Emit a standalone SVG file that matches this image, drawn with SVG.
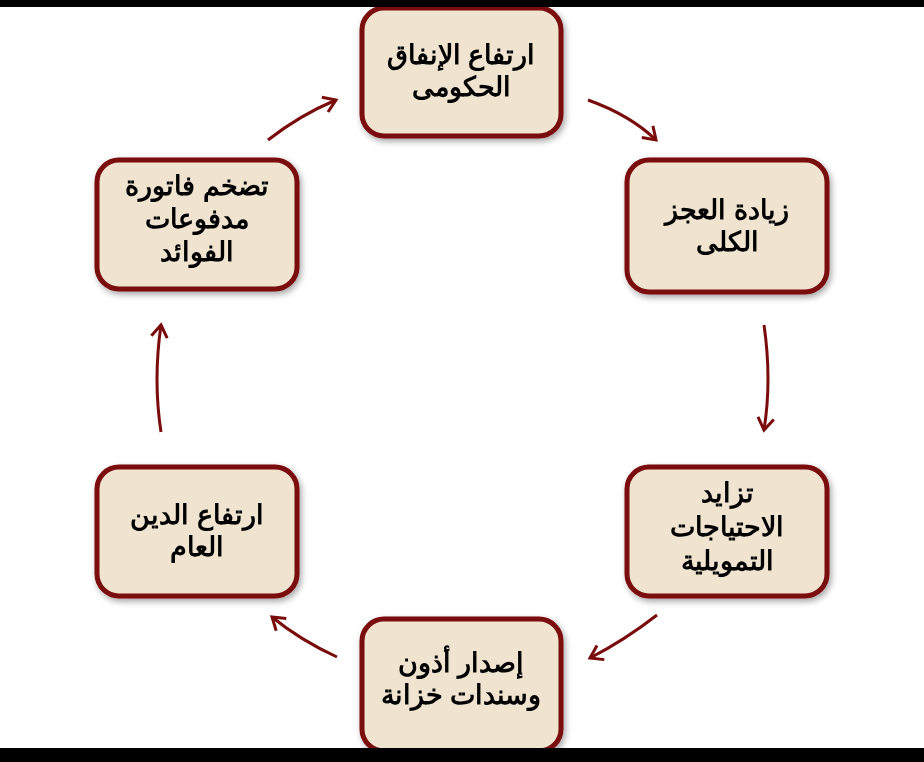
<svg xmlns="http://www.w3.org/2000/svg" width="924" height="762" viewBox="0 0 924 762">
<style>
.n rect{fill:#f0e4d0;stroke:#7a0b0b;stroke-width:5}
.n text{font-family:"Liberation Sans",Arial,sans-serif;font-weight:bold;font-size:27px;fill:#000;text-anchor:middle;direction:rtl}
.c path{fill:none;stroke:#7a0b0b;stroke-width:3}
</style>
<defs>
<marker id="a" markerWidth="20" markerHeight="20" refX="15" refY="10" orient="auto" markerUnits="userSpaceOnUse" viewBox="0 0 20 20">
<path d="M3,2 L15,10 L3,18" fill="none" stroke="#7a0b0b" stroke-width="3"/>
</marker>
<filter id="s" x="-10%" y="-10%" width="130%" height="130%"><feDropShadow dx="2" dy="3" stdDeviation="3" flood-opacity="0.35"/></filter>
</defs>
<rect width="924" height="762" fill="#fff"/>
<g class="c">
<path d="M588,100 Q630,115 656,140" marker-end="url(#a)"/>
<path d="M764,325 Q772,380 764,430" marker-end="url(#a)"/>
<path d="M657,615 Q625,640 590,658" marker-end="url(#a)"/>
<path d="M337,657 Q300,640 272,617" marker-end="url(#a)"/>
<path d="M161,432 Q153,380 161,325" marker-end="url(#a)"/>
<path d="M268,140 Q300,115 336,100" marker-end="url(#a)"/>
</g>
<g id="n1" class="n" filter="url(#s)"><rect x="362" y="8" width="199" height="128" rx="22"/><text x="461" y="64">ارتفاع الإنفاق</text><text x="461" y="96">الحكومى</text></g>
<g id="n2" class="n" filter="url(#s)"><rect x="627" y="160" width="200" height="132" rx="22"/><text x="727" y="219">زيادة العجز</text><text x="727" y="251">الكلى</text></g>
<g id="n3" class="n" filter="url(#s)"><rect x="627" y="467" width="200" height="129" rx="22"/><text x="727" y="502">تزايد</text><text x="727" y="536">الاحتياجات</text><text x="727" y="570">التمويلية</text></g>
<g id="n4" class="n" filter="url(#s)"><rect x="362" y="619" width="199" height="132" rx="22"/><text x="461" y="672">إصدار أذون</text><text x="461" y="704">وسندات خزانة</text></g>
<g id="n5" class="n" filter="url(#s)"><rect x="97" y="467" width="200" height="129" rx="22"/><text x="197" y="524">ارتفاع الدين</text><text x="197" y="556">العام</text></g>
<g id="n6" class="n" filter="url(#s)"><rect x="97" y="160" width="200" height="129" rx="22"/><text x="197" y="195">تضخم فاتورة</text><text x="197" y="228">مدفوعات</text><text x="197" y="261">الفوائد</text></g>
<rect x="0" y="0" width="924" height="7" fill="#000"/>
<rect x="0" y="748" width="924" height="14" fill="#000"/>
</svg>
